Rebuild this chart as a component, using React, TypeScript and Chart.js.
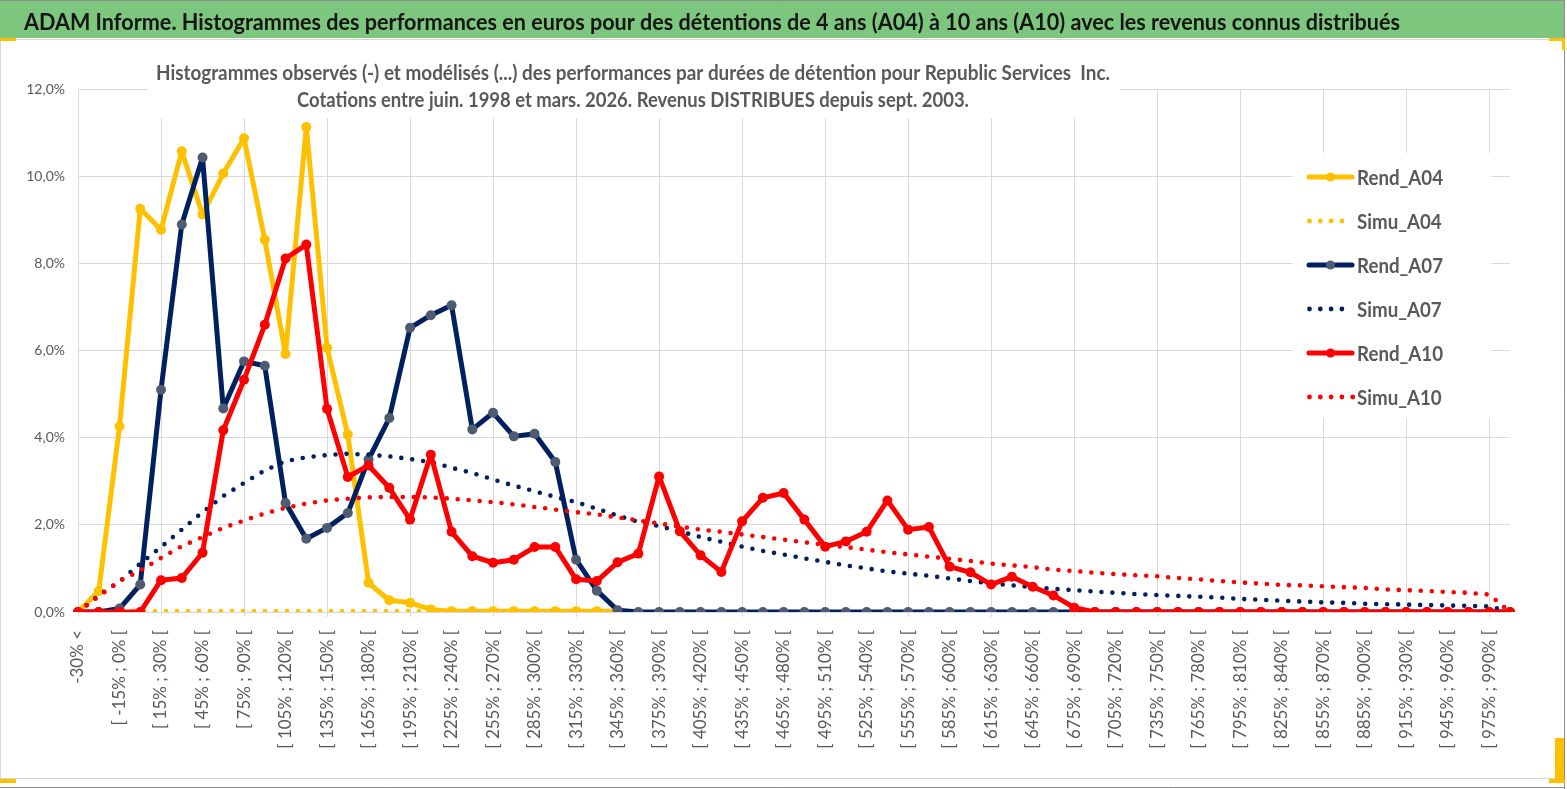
import React, { useEffect, useRef } from 'react';
import { Chart, registerables } from 'chart.js';
Chart.register(...registerables);

const W = 1567;
const H = 789;

const TITLE = 'ADAM Informe. Histogrammes des performances en euros pour des détentions de 4 ans (A04) à 10 ans (A10) avec les revenus connus distribués';
const SUB1 = 'Histogrammes observés (-) et modélisés (...) des performances par durées de détention pour Republic Services  Inc.';
const SUB2 = 'Cotations entre juin. 1998 et mars. 2026. Revenus DISTRIBUES depuis sept. 2003.';

const categories: string[] = [
  '-30% <', '[ -30% ; -15% [', '[ -15% ; 0% [', '[ 0% ; 15% [', '[ 15% ; 30% [',
  '[ 30% ; 45% [', '[ 45% ; 60% [', '[ 60% ; 75% [', '[ 75% ; 90% [', '[ 90% ; 105% [',
  '[ 105% ; 120% [', '[ 120% ; 135% [', '[ 135% ; 150% [', '[ 150% ; 165% [', '[ 165% ; 180% [',
  '[ 180% ; 195% [', '[ 195% ; 210% [', '[ 210% ; 225% [', '[ 225% ; 240% [', '[ 240% ; 255% [',
  '[ 255% ; 270% [', '[ 270% ; 285% [', '[ 285% ; 300% [', '[ 300% ; 315% [', '[ 315% ; 330% [',
  '[ 330% ; 345% [', '[ 345% ; 360% [', '[ 360% ; 375% [', '[ 375% ; 390% [', '[ 390% ; 405% [',
  '[ 405% ; 420% [', '[ 420% ; 435% [', '[ 435% ; 450% [', '[ 450% ; 465% [', '[ 465% ; 480% [',
  '[ 480% ; 495% [', '[ 495% ; 510% [', '[ 510% ; 525% [', '[ 525% ; 540% [', '[ 540% ; 555% [',
  '[ 555% ; 570% [', '[ 570% ; 585% [', '[ 585% ; 600% [', '[ 600% ; 615% [', '[ 615% ; 630% [',
  '[ 630% ; 645% [', '[ 645% ; 660% [', '[ 660% ; 675% [', '[ 675% ; 690% [', '[ 690% ; 705% [',
  '[ 705% ; 720% [', '[ 720% ; 735% [', '[ 735% ; 750% [', '[ 750% ; 765% [', '[ 765% ; 780% [',
  '[ 780% ; 795% [', '[ 795% ; 810% [', '[ 810% ; 825% [', '[ 825% ; 840% [', '[ 840% ; 855% [',
  '[ 855% ; 870% [', '[ 870% ; 885% [', '[ 885% ; 900% [', '[ 900% ; 915% [', '[ 915% ; 930% [',
  '[ 930% ; 945% [', '[ 945% ; 960% [', '[ 960% ; 975% [', '[ 975% ; 990% [', '> 990%',
];

const rendA04: (number | null)[] = [
  0, 0.48, 4.26, 9.25, 8.77, 10.57, 9.12, 10.06, 10.87, 8.54,
  5.92, 11.13, 6.06, 4.07, 0.67, 0.27, 0.21, 0.06, 0.02, 0.02,
  0.02, 0.02, 0.02, 0.02, 0.02, 0.02, 0.02, null, null, null,
  null, null, null, null, null, null, null, null, null, null,
  null, null, null, null, null, null, null, null, null, null,
  null, null, null, null, null, null, null, null, null, null,
  null, null, null, null, null, null, null, null, null, null,
];

const simuA04: (number | null)[] = [
  0, 0.02, 0.02, 0.02, 0.02, 0.02, 0.02, 0.02, 0.02, 0.02,
  0.02, 0.02, 0.02, 0.02, 0.02, 0.02, 0.02, 0.02, 0.02, 0.02,
  0.02, 0.02, 0.02, 0.02, 0.02, 0.02, 0.02, null, null, null,
  null, null, null, null, null, null, null, null, null, null,
  null, null, null, null, null, null, null, null, null, null,
  null, null, null, null, null, null, null, null, null, null,
  null, null, null, null, null, null, null, null, null, null,
];

const rendA07: number[] = [
  0, 0, 0.08, 0.63, 5.10, 8.89, 10.43, 4.67, 5.75, 5.65,
  2.50, 1.68, 1.93, 2.27, 3.50, 4.45, 6.52, 6.81, 7.04, 4.19,
  4.57, 4.03, 4.09, 3.44, 1.20, 0.49, 0.04, 0, 0, 0,
  0, 0, 0, 0, 0, 0, 0, 0, 0, 0,
  0, 0, 0, 0, 0, 0, 0, 0, 0, 0,
  0, 0, 0, 0, 0, 0, 0, 0, 0, 0,
  0, 0, 0, 0, 0, 0, 0, 0, 0, 0,
];

const simuA07: number[] = [
  0, 0.38, 0.70, 1.11, 1.49, 1.89, 2.29, 2.66, 2.96, 3.25,
  3.46, 3.55, 3.60, 3.63, 3.61, 3.57, 3.51, 3.44, 3.31, 3.19,
  3.04, 2.90, 2.77, 2.64, 2.52, 2.37, 2.21, 2.07, 1.97, 1.85,
  1.72, 1.61, 1.50, 1.40, 1.32, 1.23, 1.15, 1.07, 1.00, 0.93,
  0.88, 0.83, 0.77, 0.71, 0.66, 0.61, 0.57, 0.53, 0.50, 0.47,
  0.44, 0.41, 0.39, 0.37, 0.35, 0.33, 0.30, 0.28, 0.26, 0.24,
  0.22, 0.21, 0.19, 0.18, 0.17, 0.16, 0.15, 0.14, 0.13, 0,
];

const rendA10: number[] = [
  0, 0, 0, 0, 0.73, 0.78, 1.36, 4.17, 5.33, 6.59,
  8.11, 8.43, 4.66, 3.10, 3.36, 2.85, 2.12, 3.61, 1.84, 1.28,
  1.13, 1.20, 1.49, 1.49, 0.75, 0.71, 1.14, 1.34, 3.11, 1.85,
  1.30, 0.92, 2.08, 2.62, 2.73, 2.12, 1.50, 1.62, 1.84, 2.56,
  1.89, 1.95, 1.04, 0.91, 0.63, 0.81, 0.58, 0.38, 0.10, 0,
  0, 0, 0, 0, 0, 0, 0, 0, 0, 0,
  0, 0, 0, 0, 0, 0, 0, 0, 0, 0,
];

const simuA10: number[] = [
  0, 0.36, 0.71, 0.95, 1.24, 1.51, 1.72, 1.93, 2.10, 2.26,
  2.39, 2.49, 2.56, 2.60, 2.63, 2.64, 2.64, 2.63, 2.60, 2.56,
  2.52, 2.47, 2.41, 2.35, 2.29, 2.24, 2.17, 2.10, 2.03, 1.96,
  1.89, 1.84, 1.78, 1.72, 1.66, 1.60, 1.54, 1.49, 1.43, 1.37,
  1.32, 1.27, 1.22, 1.17, 1.11, 1.07, 1.03, 0.97, 0.94, 0.90,
  0.87, 0.84, 0.82, 0.78, 0.75, 0.71, 0.68, 0.65, 0.62, 0.61,
  0.59, 0.57, 0.55, 0.52, 0.50, 0.48, 0.46, 0.44, 0.40, 0,
];

const yTicks: number[] = [0, 2, 4, 6, 8, 10, 12];

const GOLD = '#ffc000';
const NAVY = '#002060';
const NAVY_MARK = '#4f5b70';
const RED = '#ff0000';
const TEXT = '#595959';
const GRID = '#d9d9d9';
const FONT = 'Lato, "Open Sans", sans-serif';

type LegendItem = { label: string; color: string; marker?: string; dotted: boolean; dots?: number };
const legendItems: LegendItem[] = [
  { label: 'Rend_A04', color: GOLD, marker: GOLD, dotted: false },
  { label: 'Simu_A04', color: GOLD, dotted: true, dots: 4 },
  { label: 'Rend_A07', color: NAVY, marker: NAVY_MARK, dotted: false },
  { label: 'Simu_A07', color: NAVY, dotted: true, dots: 4 },
  { label: 'Rend_A10', color: RED, marker: RED, dotted: false },
  { label: 'Simu_A10', color: RED, dotted: true, dots: 5 },
];

function scaledText(ctx: CanvasRenderingContext2D, text: string, x: number, y: number, width: number, font: string, color: string) {
  ctx.save();
  ctx.font = font;
  const m = ctx.measureText(text).width;
  ctx.translate(x, y);
  ctx.scale(width / m, 1);
  ctx.fillStyle = color;
  ctx.textAlign = 'left';
  ctx.textBaseline = 'alphabetic';
  ctx.fillText(text, 0, 0);
  ctx.restore();
}

const decor = {
  id: 'decor',
  beforeDraw(chart: any) {
    const ctx: CanvasRenderingContext2D = chart.ctx;
    ctx.save();
    ctx.fillStyle = '#ffffff';
    ctx.fillRect(0, 0, W, H);
    ctx.fillStyle = '#7dc67d';
    ctx.fillRect(0, 1, 1564, 37);
    ctx.strokeStyle = '#8c8c8c';
    ctx.lineWidth = 1;
    ctx.beginPath();
    ctx.moveTo(0, 0.5); ctx.lineTo(1565, 0.5);
    ctx.moveTo(1564.5, 0); ctx.lineTo(1564.5, H);
    ctx.moveTo(0, 787.5); ctx.lineTo(1565, 787.5);
    ctx.stroke();
    ctx.strokeStyle = '#d6d6d6';
    ctx.beginPath();
    ctx.moveTo(0, 39.5); ctx.lineTo(1564, 39.5);
    ctx.moveTo(0, 778.5); ctx.lineTo(1564, 778.5);
    ctx.moveTo(0.5, 40); ctx.lineTo(0.5, 778);
    ctx.stroke();
    scaledText(ctx, TITLE, 24, 30, 1376, `bold 22px ${FONT}`, '#151515');
    ctx.restore();
  },
  afterDraw(chart: any) {
    const ctx: CanvasRenderingContext2D = chart.ctx;
    ctx.save();
    ctx.fillStyle = '#ffffff';
    ctx.fillRect(148, 56, 972, 62);
    scaledText(ctx, SUB1, 156, 80, 954, `bold 20px ${FONT}`, TEXT);
    scaledText(ctx, SUB2, 297, 107, 672, `bold 20px ${FONT}`, TEXT);

    ctx.fillStyle = '#ffffff';
    ctx.fillRect(1293, 153, 198, 265);
    const lf = `bold 21px ${FONT}`;
    ctx.font = lf;
    const k = 86 / ctx.measureText('Rend_A04').width;
    legendItems.forEach((it, i) => {
      const y = 177 + i * 44;
      if (it.dotted) {
        ctx.fillStyle = it.color;
        for (let d = 0; d < (it.dots || 4); d++) {
          ctx.beginPath();
          ctx.arc(1309.5 + d * 10.8, y, 2.4, 0, Math.PI * 2);
          ctx.fill();
        }
      } else {
        ctx.strokeStyle = it.color;
        ctx.lineWidth = 5;
        ctx.lineCap = 'round';
        ctx.beginPath();
        ctx.moveTo(1309, y); ctx.lineTo(1352, y);
        ctx.stroke();
        ctx.fillStyle = it.marker || it.color;
        ctx.beginPath();
        ctx.arc(1330.5, y, 4.5, 0, Math.PI * 2);
        ctx.fill();
      }
      ctx.save();
      ctx.font = lf;
      ctx.translate(1357, y + 7.5);
      ctx.scale(k, 1);
      ctx.fillStyle = TEXT;
      ctx.textBaseline = 'alphabetic';
      ctx.fillText(it.label, 0, 0);
      ctx.restore();
    });

    ctx.fillStyle = GOLD;
    ctx.fillRect(0, 38, 16, 3);
    ctx.fillRect(1549, 38, 15, 3);
    ctx.fillRect(1562, 38, 3, 12);
    ctx.fillRect(0, 779, 16, 4);
    ctx.fillRect(1549, 779, 16, 4);
    ctx.fillRect(1555, 738, 9, 45);
    ctx.restore();
  },
};

export default function App() {
  const ref = useRef<HTMLCanvasElement>(null);
  useEffect(() => {
    document.body.style.margin = '0';
    const rend = (label: string, data: (number | null)[], color: string, mark: string, order: number) => ({
      label,
      data,
      borderColor: color,
      backgroundColor: mark,
      borderWidth: 5,
      borderJoinStyle: 'round' as const,
      borderCapStyle: 'round' as const,
      pointRadius: 5,
      pointBackgroundColor: mark,
      pointBorderColor: mark,
      pointBorderWidth: 0,
      tension: 0,
      spanGaps: false,
      order,
    });
    const simu = (label: string, data: (number | null)[], color: string, order: number) => ({
      label,
      data,
      borderColor: color,
      backgroundColor: color,
      borderWidth: 4.6,
      borderDash: [0, 11],
      borderCapStyle: 'round' as const,
      borderJoinStyle: 'round' as const,
      pointRadius: 0,
      tension: 0,
      order,
    });
    const chart = new Chart(ref.current!, {
      type: 'line',
      data: {
        labels: categories,
        datasets: [
          rend('Rend_A04', rendA04, GOLD, GOLD, 6),
          simu('Simu_A04', simuA04, GOLD, 5),
          rend('Rend_A07', rendA07, NAVY, NAVY_MARK, 4),
          simu('Simu_A07', simuA07, NAVY, 3),
          rend('Rend_A10', rendA10, RED, RED, 2),
          simu('Simu_A10', simuA10, RED, 1),
        ] as any,
      },
      options: {
        responsive: false,
        animation: false,
        devicePixelRatio: 1,
        layout: { padding: { top: 89, right: 57, left: 0, bottom: 0 } },
        plugins: {
          legend: { display: false },
          tooltip: { enabled: false },
          title: { display: false },
        },
        scales: {
          x: {
            type: 'category',
            offset: false,
            border: { display: false },
            grid: {
              color: (c: any) => (c.index % 4 === 0 ? GRID : 'rgba(0,0,0,0)'),
              tickColor: (c: any) => (c.index % 4 === 0 ? GRID : 'rgba(0,0,0,0)'),
              tickLength: 5,
              drawTicks: true,
              lineWidth: 1,
            },
            ticks: {
              autoSkip: false,
              maxRotation: 90,
              minRotation: 90,
              padding: 13,
              color: TEXT,
              font: { family: FONT, size: 17 },
              callback: (_v: any, i: number) => (i % 2 === 0 ? categories[i] : ''),
            },
            afterFit: (s: any) => { s.height = 177; },
          },
          y: {
            min: yTicks[0],
            max: yTicks[yTicks.length - 1],
            border: { display: false },
            grid: { color: GRID, drawTicks: false, lineWidth: 1 },
            ticks: {
              stepSize: 2,
              padding: 13,
              color: TEXT,
              font: { family: FONT, size: 14 },
              callback: (v: any) => Number(v).toFixed(1).replace('.', ',') + '%',
            },
            afterFit: (s: any) => { s.width = 78; },
          },
        },
      },
      plugins: [decor],
    });
    return () => chart.destroy();
  }, []);
  return (
    <div style={{ width: W, height: H, background: '#fff' }}>
      <canvas ref={ref} width={W} height={H} style={{ display: 'block', width: W, height: H }} />
    </div>
  );
}
